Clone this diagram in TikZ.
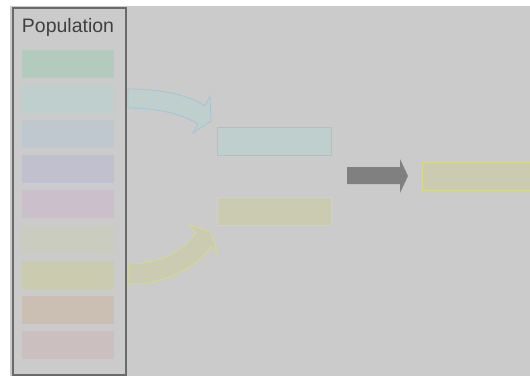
\documentclass[tikz,border=0pt]{standalone}
\usepackage{fontspec}
\setmainfont{Liberation Sans}
\begin{document}
\begin{tikzpicture}[x=1pt,y=-1pt,
  member/.style={inner sep=0pt, minimum width=92pt, minimum height=28pt, anchor=north west},
  slot/.style={draw, line width=0.8pt, inner sep=0pt, minimum width=114pt, minimum height=28pt, anchor=north west},
  bandarrow/.style={line width=0.8pt, line join=miter}]
\definecolor{bgray}{HTML}{CBCBCB}
\definecolor{frame}{HTML}{6A6A6A}
\definecolor{ink}{HTML}{404040}
\definecolor{mA}{HTML}{B3CBBC}
\definecolor{mB}{HTML}{BFCFCE}
\definecolor{mC}{HTML}{BFC7CF}
\definecolor{mD}{HTML}{C0C0CF}
\definecolor{mE}{HTML}{CBBFCC}
\definecolor{mF}{HTML}{CACCBF}
\definecolor{mG}{HTML}{CBCBB0}
\definecolor{mH}{HTML}{CBBFB3}
\definecolor{mI}{HTML}{CBBFC0}
\definecolor{blueline}{HTML}{A3C4D6}
\definecolor{yelline}{HTML}{D9D98C}
\definecolor{yelfill}{HTML}{CBCBB2}
\definecolor{pushgray}{HTML}{808080}
\useasboundingbox (0,0) rectangle (530,376);
% canvas
\fill[white] (0,0) rectangle (530,376);
\fill[bgray] (10,6) rectangle (530,376);
% population frame
\node[draw=frame, line width=2pt, inner sep=0pt, minimum width=113pt, minimum height=367pt, anchor=north west] (pop) at (11.5,6.5) {};
\node[text=ink, font=\fontsize{19.5}{22}\selectfont, anchor=base] (poplabel) at (68,32) {Population};
% members
\node[member, fill=mA] (m1) at (22,50) {};
\node[member, fill=mB] (m2) at (22,85) {};
\node[member, fill=mC] (m3) at (22,120) {};
\node[member, fill=mD] (m4) at (22,155) {};
\node[member, fill=mE] (m5) at (22,190) {};
\node[member, fill=mF] (m6) at (22,226) {};
\node[member, fill=mG] (m7) at (22,261) {};
\node[member, fill=mH] (m8) at (22,296) {};
\node[member, fill=mI] (m9) at (22,331) {};
% selected parents
\node[slot, draw=blueline, fill=mB] (p1) at (217,127) {};
\node[slot, draw=yelline, fill=yelfill] (p2) at (217,197) {};
% offspring
\node[slot, draw=yelline, fill=yelfill, minimum width=120pt] (child) at (422,162) {};
% curved selection arrows
\draw[bandarrow, draw=blueline, fill=mB]
  (128,89) .. controls (165,89) and (190,96) .. (205,106)
  -- (210,96) -- (211,121) -- (193,133) -- (198,124)
  .. controls (184,115) and (160,108) .. (128,108) -- cycle;
\draw[bandarrow, draw=yelline, fill=yelfill]
  (128,264) .. controls (160,264) and (182,252) .. (196,233)
  -- (189,225) -- (211,232) -- (217,253) -- (211,246)
  .. controls (196,268) and (166,284) .. (128,284) -- cycle;
% crossover arrow
\fill[pushgray] (347,167) -- (400,167) -- (400,159) -- (408,176) -- (400,193) -- (400,184) -- (347,184) -- cycle;
\end{tikzpicture}
\end{document}
